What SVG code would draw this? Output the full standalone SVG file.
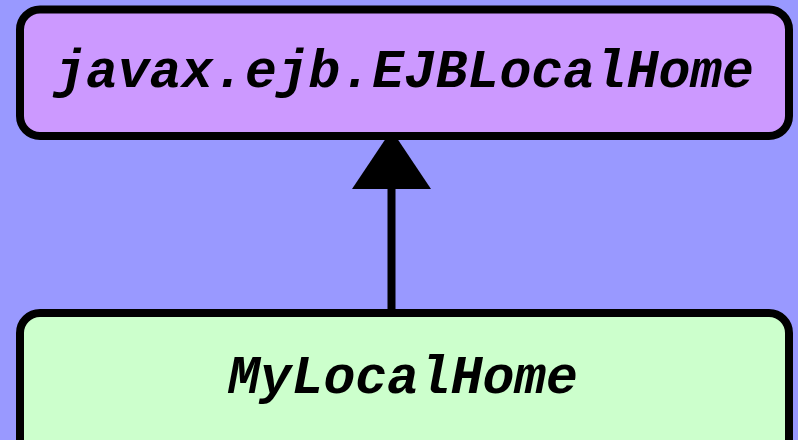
<svg xmlns="http://www.w3.org/2000/svg" width="798" height="440" viewBox="0 0 798 440">
<defs>
<style>
.box{stroke:#000;stroke-width:8}
.lbl{font-family:"Liberation Mono","Courier New",monospace;font-weight:bold;font-style:italic;font-size:53px;text-anchor:middle;fill:#000}
</style>
</defs>
<rect width="798" height="440" fill="#9999ff"/>
<g id="connectors">
<line x1="391.5" y1="313" x2="391.5" y2="189" stroke="#000" stroke-width="8"/>
<path d="M391.5 130 L431 189 L352 189 Z" fill="#000"/>
</g>
<g id="node-ejblocalhome">
<rect class="box" x="20" y="9.5" width="769" height="126.5" rx="20" fill="#cc99ff"/>
<text class="lbl" x="404" y="87">javax.ejb.EJBLocalHome</text>
</g>
<g id="node-mylocalhome">
<rect class="box" x="20" y="313" width="769" height="160" rx="20" fill="#ccffcc"/>
<text class="lbl" x="403" y="393">MyLocalHome</text>
</g>
</svg>
